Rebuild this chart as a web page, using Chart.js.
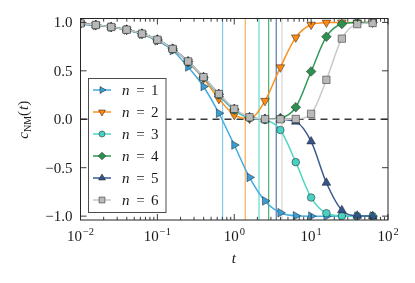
<!DOCTYPE html>
<html><head><meta charset="utf-8">
<script src="https://cdn.jsdelivr.net/npm/chart.js@4/dist/chart.umd.min.js"></script>
<style>html,body{margin:0;padding:0;background:#fff;}#wrap{width:415px;height:283px;}</style>
</head><body><div id="wrap"><canvas id="c" width="415" height="283"></canvas></div>
<script>
// ---- data ----
const tValues = [0.01, 0.0158, 0.0251, 0.0398, 0.0631, 0.1, 0.158, 0.251, 0.398, 0.631, 1, 1.58, 2.51, 3.98, 6.31, 10, 15.8, 25.1, 39.8, 63.1];
const cN1 = [0.98, 0.969, 0.951, 0.922, 0.877, 0.81, 0.71, 0.54, 0.338, 0.062, -0.266, -0.60, -0.843, -0.965, -0.997, -1.0, -1.0, -1.0, -1.0, -1.0];
const cN2 = [0.99, 0.972, 0.952, 0.923, 0.882, 0.82, 0.724, 0.59, 0.42, 0.21, 0.045, 0.006, 0.19, 0.536, 0.845, 0.976, 0.998, 1.0, 1.0, 1.0];
const cN3 = [0.99, 0.973, 0.952, 0.924, 0.883, 0.821, 0.726, 0.594, 0.43, 0.25, 0.092, 0.012, -0.008, -0.111, -0.443, -0.808, -0.97, -0.998, -1.0, -1.0];
const cN4 = [0.99, 0.973, 0.952, 0.924, 0.883, 0.821, 0.727, 0.596, 0.433, 0.258, 0.103, 0.018, 0.001, 0.012, 0.124, 0.493, 0.852, 0.983, 0.999, 1.0];
const cN5 = [0.99, 0.973, 0.952, 0.924, 0.883, 0.821, 0.727, 0.597, 0.434, 0.26, 0.106, 0.02, 0.002, -0.001, -0.025, -0.229, -0.656, -0.939, -0.996, -1.0];
const cN6 = [0.99, 0.973, 0.952, 0.924, 0.883, 0.821, 0.727, 0.597, 0.435, 0.261, 0.107, 0.021, 0.002, 0.0, 0.003, 0.056, 0.407, 0.832, 0.982, 0.994];
const seriesN = [1, 2, 3, 4, 5, 6];
const crossT = [0.705, 1.39, 2.1, 2.8, 3.52, 4.18];
const xTickExponents = [-2, -1, 0, 1, 2];
const yTickValues = [1.0, 0.5, 0.0, -0.5, -1.0];
const yTickLabels = ['1.0', '0.5', '0.0', '\u22120.5', '\u22121.0'];
const xLimits = [0.01, 100];
const yLimits = [-1.04, 1.04];
const zeroLevel = 0;

// ---- styles ----
const allValues = [cN1, cN2, cN3, cN4, cN5, cN6];
const lineColors = ['#45ace2', '#fb9020', '#4fd6c4', '#309a58', '#3a5b93', '#c9c9c9'];
const markColors = ['#3a9fd8', '#ff8a10', '#48d1c2', '#2e9050', '#33558c', '#b9b9b9'];
const vColors = ['rgba(120,195,236,0.9)', 'rgba(248,160,64,0.85)', 'rgba(79,214,196,0.9)', 'rgba(60,165,100,0.9)', 'rgba(70,105,165,0.9)', 'rgba(205,205,205,0.85)'];
const pStyles = ['triangle', 'triangle', 'circle', 'rectRot', 'triangle', 'rect'];
const pRot = [90, 180, 0, 0, 0, 0];
const pRad = [5, 5, 3.8, 4.8, 5, 5.2];
const SERIF = '"Liberation Serif", "DejaVu Serif", serif';

const datasets = [];
seriesN.forEach((n, i) => {
  datasets.push({
    label: 'n = ' + n,
    data: tValues.map((t, j) => ({x: t, y: allValues[i][j]})),
    borderColor: lineColors[i], borderWidth: 1.5,
    backgroundColor: markColors[i],
    pointBackgroundColor: markColors[i], pointBorderColor: 'rgba(30,30,30,0.85)', pointBorderWidth: 0.6,
    pointStyle: pStyles[i], pointRotation: pRot[i], pointRadius: pRad[i],
    cubicInterpolationMode: 'monotone', order: 7 - n
  });
});
crossT.forEach((t, i) => {
  datasets.push({
    label: 'v' + (i + 1),
    data: [{x: t, y: yLimits[0]}, {x: t, y: yLimits[1]}],
    borderColor: vColors[i], borderWidth: 1.2, pointRadius: 0, order: 20
  });
});
datasets.push({
  label: 'zero',
  data: [{x: xLimits[0], y: zeroLevel}, {x: xLimits[1], y: zeroLevel}],
  borderColor: '#3a3a3a', borderWidth: 1.3, borderDash: [7, 5], pointRadius: 0, order: 30
});

const decorPlugin = {
  id: 'decor',
  afterDatasetsDraw(chart) {
    const ctx = chart.ctx, a = chart.chartArea, xs = chart.scales.x, ys = chart.scales.y;
    ctx.save();
    ctx.strokeStyle = '#262626'; ctx.lineWidth = 1;
    ctx.strokeRect(a.left, a.top, a.right - a.left, a.bottom - a.top);
    ctx.lineWidth = 0.9;
    for (let e = xTickExponents[0]; e <= xTickExponents[xTickExponents.length - 1]; e++) {
      for (let m = 1; m <= 9; m++) {
        const v = m * Math.pow(10, e);
        if (v > xLimits[1] * 1.0001) break;
        const px = xs.getPixelForValue(v);
        const len = m === 1 ? 6 : 3.2;
        ctx.beginPath();
        ctx.moveTo(px, a.bottom); ctx.lineTo(px, a.bottom - len);
        ctx.moveTo(px, a.top); ctx.lineTo(px, a.top + len);
        ctx.stroke();
      }
    }
    yTickValues.forEach(v => {
      const py = ys.getPixelForValue(v);
      ctx.beginPath();
      ctx.moveTo(a.left, py); ctx.lineTo(a.left + 6, py);
      ctx.moveTo(a.right, py); ctx.lineTo(a.right - 6, py);
      ctx.stroke();
    });
    ctx.restore();
  },
  afterDraw(chart) {
    const ctx = chart.ctx, a = chart.chartArea, xs = chart.scales.x, ys = chart.scales.y;
    ctx.save();
    ctx.fillStyle = '#1a1a1a';
    ctx.font = '15px ' + SERIF; ctx.textAlign = 'right'; ctx.textBaseline = 'alphabetic';
    yTickValues.forEach((v, i) => {
      ctx.fillText(yTickLabels[i], a.left - 8, ys.getPixelForValue(v) + 5);
    });
    xTickExponents.forEach(e => {
      const px = xs.getPixelForValue(Math.pow(10, e));
      const expTxt = e < 0 ? '\u2212' + (-e) : String(e);
      ctx.font = '15px ' + SERIF; const w1 = ctx.measureText('10').width;
      ctx.font = '10.5px ' + SERIF; const w2 = ctx.measureText(expTxt).width;
      const x0 = px - (w1 + w2 + 1) / 2;
      ctx.textAlign = 'left';
      ctx.font = '15px ' + SERIF; ctx.fillText('10', x0, a.bottom + 20.5);
      ctx.font = '10.5px ' + SERIF; ctx.fillText(expTxt, x0 + w1 + 1, a.bottom + 14.5);
    });
    ctx.font = 'italic 15px ' + SERIF; ctx.textAlign = 'center';
    ctx.fillText('t', (a.left + a.right) / 2 - 0.5, 263);
    ctx.save();
    ctx.translate(27.5, (a.top + a.bottom) / 2);
    ctx.rotate(-Math.PI / 2);
    ctx.textAlign = 'left';
    const parts = [
      {t: 'c', f: 'italic 15px ' + SERIF, dy: 0},
      {t: 'NM', f: '10px ' + SERIF, dy: 3},
      {t: '(', f: '15px ' + SERIF, dy: 0, pad: 1},
      {t: 't', f: 'italic 15px ' + SERIF, dy: 0},
      {t: ')', f: '15px ' + SERIF, dy: 0, pad: 1}
    ];
    let total = 0;
    parts.forEach(p => { ctx.font = p.f; p.w = ctx.measureText(p.t).width + (p.pad || 0); total += p.w; });
    let cx = -total / 2;
    parts.forEach(p => { ctx.font = p.f; ctx.fillText(p.t, cx, p.dy); cx += p.w; });
    ctx.restore();
    const bx = 88.5, by = 78.5, bw = 77.5, bh = 134;
    ctx.fillStyle = '#ffffff'; ctx.fillRect(bx, by, bw, bh);
    ctx.strokeStyle = '#4d4d4d'; ctx.lineWidth = 1; ctx.strokeRect(bx, by, bw, bh);
    seriesN.forEach((n, i) => {
      const ly = 90 + i * 22;
      ctx.strokeStyle = lineColors[i]; ctx.lineWidth = 1.5;
      ctx.beginPath(); ctx.moveTo(93, ly); ctx.lineTo(111, ly); ctx.stroke();
      ctx.fillStyle = markColors[i]; ctx.strokeStyle = 'rgba(30,30,30,0.85)'; ctx.lineWidth = 0.6;
      Chart.helpers.drawPoint(ctx, {pointStyle: pStyles[i], rotation: pRot[i], radius: pRad[i] * 0.8, borderWidth: 0.6}, 102, ly);
      ctx.fillStyle = '#1a1a1a'; ctx.textAlign = 'left';
      ctx.font = 'italic 15px ' + SERIF; ctx.fillText('n', 122, ly + 5);
      ctx.font = '15px ' + SERIF; ctx.textAlign = 'center'; ctx.fillText('=', 140.5, ly + 5);
      ctx.textAlign = 'left'; ctx.fillText(String(n), 151, ly + 5);
    });
    ctx.restore();
  }
};

new Chart(document.getElementById('c'), {
  type: 'line',
  data: {datasets},
  options: {
    responsive: false, animation: false, devicePixelRatio: 1,
    layout: {padding: {left: 80.5, right: 27, top: 18.5, bottom: 63}},
    plugins: {legend: {display: false}, tooltip: {enabled: false}},
    scales: {
      x: {type: 'logarithmic', min: xLimits[0], max: xLimits[1], display: false},
      y: {type: 'linear', min: yLimits[0], max: yLimits[1], display: false}
    }
  },
  plugins: [decorPlugin]
});
</script></body></html>
